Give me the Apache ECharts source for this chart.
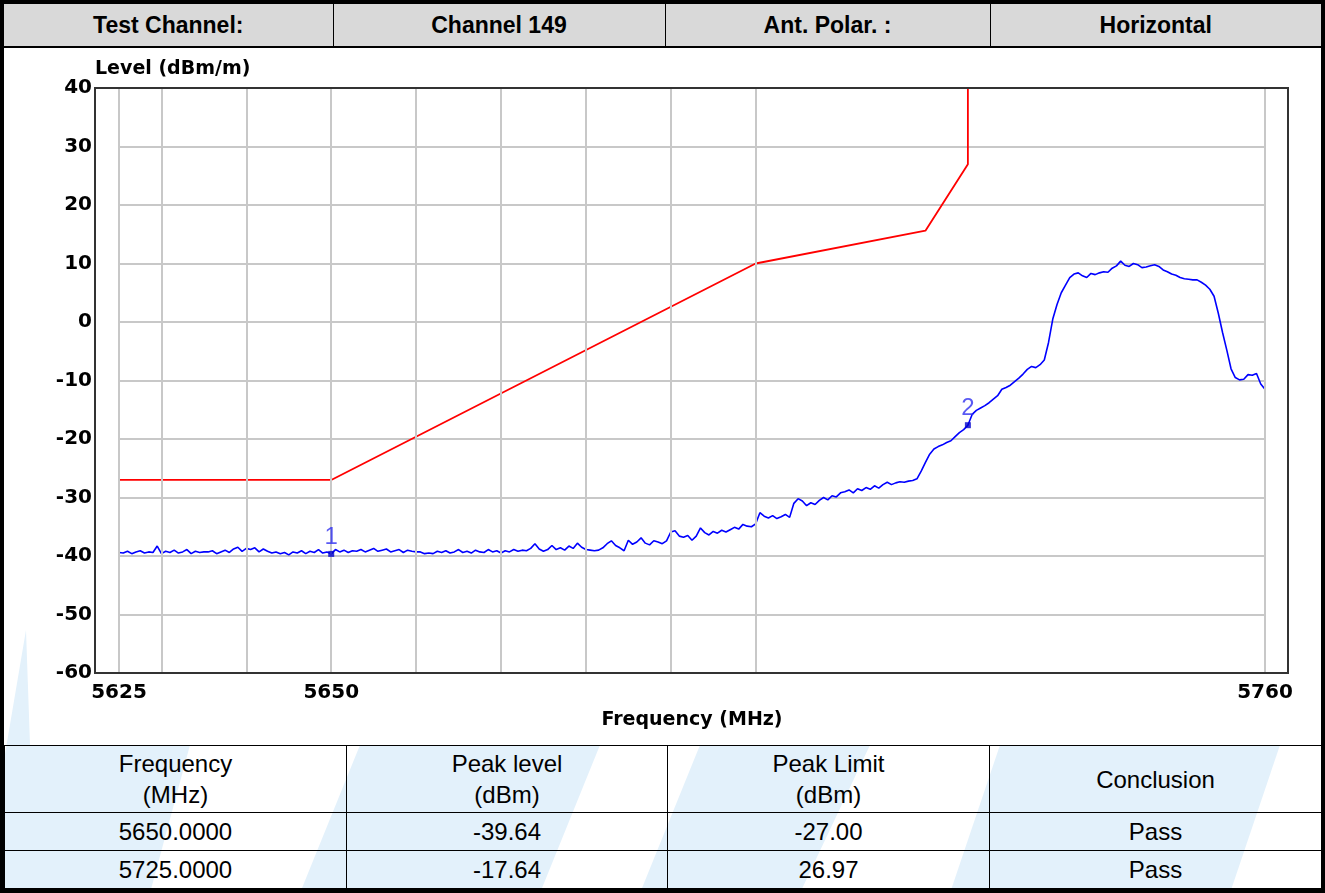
<!DOCTYPE html>
<html>
<head>
<meta charset="utf-8">
<title>Band edge - Channel 149 Horizontal</title>
<script src="https://cdn.jsdelivr.net/npm/echarts@6/dist/echarts.min.js"></script>
<style>
  html, body { margin: 0; padding: 0; background: #fff; }
  #page { position: relative; width: 1325px; height: 893px; overflow: hidden;
          font-family: Arial, "Liberation Sans", sans-serif; color: #000; }
  #watermark { position: absolute; left: 0; top: 0; z-index: 0; }
  #border { position: absolute; left: 0; top: 0; width: 1317px; height: 885px;
            border: 4px solid #000; z-index: 5; pointer-events: none; }
  table { position: absolute; left: 4px; width: 1317px; border-collapse: collapse;
          table-layout: fixed; z-index: 2; }
  #head { top: 4px; }
  #head td { height: 42px; padding: 0; background: #d9d9d9; font-weight: bold; font-size: 23px;
             text-align: center; border-left: 1px solid #000; border-bottom: 2px solid #000; }
  #head td:first-child { border-left: none; }
  #result { top: 745px; }
  #result td { padding: 0; text-align: center; font-size: 24px; line-height: 31px;
               border: 1px solid #000; }
  #result tr.h td { height: 66px; }
  #result tr.r td { height: 37px; }
  #chart { position: absolute; left: 4px; top: 48px; width: 1317px; height: 697px; z-index: 3; }
</style>
</head>
<body>
<div id="page">
  <svg id="watermark" width="1325" height="893">
    <g fill="#e3f1fb">
      <polygon points="4,760 26,630 30,745 190,745 150,893 4,893" />
      <polygon points="360,745 600,745 540,893 300,893" />
      <polygon points="700,745 870,745 800,893 640,893" />
      <polygon points="1000,745 1280,745 1230,893 950,893" />
    </g>
  </svg>
  <table id="head"></table>
  <div id="chart"></div>
  <table id="result"></table>
  <div id="border"></div>
</div>
<script>
// header / result table content
const headerCells = ['Test Channel:', 'Channel 149', 'Ant. Polar. :', 'Horizontal'];
const headerWidths = [329, 332, 325, 331];
const resultHeads = [['Frequency', '(MHz)'], ['Peak level', '(dBm)'], ['Peak Limit', '(dBm)'], ['Conclusion']];
const resultWidths = [342, 321, 322, 332];
const markerFreqs = [5650.0, 5725.0];
const peakLevels = [-39.64, -17.64];
const peakLimits = [-27.00, 26.97];
const conclusions = ['Pass', 'Pass'];

// limit line (FCC mask)
const limitFreqs = [5625, 5650, 5700, 5720, 5725, 5725];
const limitLevels = [-27, -27, 10, 15.6, 26.97, 40];

// axis ticks
const xTickLabels = [5625, 5650, 5760];
const gridFreqs = [5625, 5630, 5640, 5650, 5660, 5670, 5680, 5690, 5700, 5760];

// measured trace, one reading every 0.5 MHz from 5625 MHz
const sweepStart = 5625;
const sweepStep = 0.5;
const levelDbm = [
  // 5625.0 - 5650.0
  -39.4, -39.5, -39.2, -39.6, -39.3, -39.1, -39.5, -39.3, -39.4, -38.3,
  -39.6, -39.2, -39.4, -39.0, -39.5, -39.3, -38.9, -39.6, -39.2, -39.4,
  -39.3, -39.3, -39.1, -39.6, -39.3, -39.0, -39.4, -38.8, -38.5, -39.2,
  -38.7, -38.9, -38.6, -39.3, -38.8, -39.2, -39.5, -39.3, -39.6, -39.4,
  -39.8, -39.3, -39.5, -39.1, -39.6, -39.2, -39.4, -38.9, -39.5, -39.3,
  -39.64,
  // 5650.5 - 5660
  -38.9, -39.3, -39.0, -39.4, -39.1, -39.2, -38.9, -39.3, -39.0, -38.7,
  -39.2, -39.0, -38.8, -39.3, -39.1, -38.9, -39.4, -39.0, -39.2, -39.3,
  // 5660.5 - 5670
  -39.3, -39.6, -39.5, -39.6, -39.2, -39.4, -39.1, -39.5, -39.3, -38.9,
  -39.4, -39.2, -39.5, -39.0, -39.3, -39.4, -38.9, -39.3, -39.1, -39.5,
  // 5670.5 - 5680
  -39.1, -39.3, -38.9, -39.2, -39.0, -39.1, -38.7, -37.9, -38.8, -39.2,
  -38.9, -38.2, -38.9, -38.6, -39.0, -38.3, -38.7, -37.8, -38.5, -38.9,
  // 5680.5 - 5690
  -39.0, -39.1, -39.0, -38.6, -37.9, -37.4, -38.2, -38.6, -39.1, -37.3,
  -38.0, -37.6, -36.9, -37.8, -38.1, -37.4, -37.6, -37.9, -37.4, -35.9,
  // 5690.5 - 5700
  -35.7, -36.6, -36.8, -36.5, -37.3, -36.6, -35.2, -36.0, -36.4, -35.8,
  -36.1, -35.6, -35.9, -35.5, -35.1, -35.4, -34.6, -34.9, -35.0, -34.5,
  // 5700.5 - 5710
  -32.6, -33.2, -33.5, -33.1, -33.6, -33.3, -32.9, -33.4, -31.0, -30.2,
  -30.6, -31.4, -30.9, -31.2, -30.5, -30.0, -30.4, -29.7, -29.9, -29.2,
  // 5710.5 - 5720
  -29.0, -28.7, -29.2, -28.5, -28.8, -28.3, -28.6, -28.0, -28.4, -27.8,
  -27.4, -27.8, -27.5, -27.3, -27.4, -27.2, -27.1, -26.8, -25.5, -24.0,
  // 5720.5 - 5730
  -22.6, -21.7, -21.3, -21.0, -20.6, -20.3, -19.6, -18.9, -18.4, -17.64,
  -15.8, -15.1, -14.7, -14.3, -13.8, -13.2, -12.6, -11.5, -11.2, -10.8,
  // 5730.5 - 5740
  -10.2, -9.6, -8.9, -8.1, -7.6, -7.8, -7.3, -6.5, -3.5, 0.5,
  3.0, 5.0, 6.3, 7.6, 8.2, 8.4, 7.9, 7.6, 8.3, 8.1,
  // 5740.5 - 5750
  8.4, 8.6, 8.5, 9.2, 9.6, 10.4, 9.7, 9.5, 10.0, 9.8,
  9.3, 9.4, 9.6, 9.8, 9.5, 8.9, 8.6, 8.2, 8.0, 7.6,
  // 5750.5 - 5760
  7.4, 7.3, 7.2, 7.2, 6.8, 6.3, 5.6, 4.4, 1.5, -1.8,
  -4.8, -8.0, -9.5, -9.9, -9.8, -9.0, -9.1, -8.8, -10.6, -11.5
];

// build the two tables
const head = document.getElementById('head');
head.innerHTML = '<colgroup>' + headerWidths.map(w => `<col style="width:${w}px">`).join('') + '</colgroup>' +
  '<tr>' + headerCells.map(t => `<td>${t}</td>`).join('') + '</tr>';

const result = document.getElementById('result');
let rows = '<colgroup>' + resultWidths.map(w => `<col style="width:${w}px">`).join('') + '</colgroup>';
rows += '<tr class="h">' + resultHeads.map(t => `<td>${t.join('<br>')}</td>`).join('') + '</tr>';
markerFreqs.forEach((f, i) => {
  rows += '<tr class="r"><td>' + f.toFixed(4) + '</td><td>' + peakLevels[i].toFixed(2) +
    '</td><td>' + peakLimits[i].toFixed(2) + '</td><td>' + conclusions[i] + '</td></tr>';
});
result.innerHTML = rows;

// chart
const dom = document.getElementById('chart');
const myChart = echarts.init(dom, null, { renderer: 'canvas' });

const tracePoints = levelDbm.map((v, i) => [sweepStart + i * sweepStep, v]);
const limitPoints = limitFreqs.map((f, i) => [f, limitLevels[i]]);
const markerPoints = markerFreqs.map((f, i) => [f, peakLevels[i]]);

const labelFont = { fontFamily: 'DejaVu Sans', fontWeight: 'bold', fontSize: 20, color: '#000' };

const option = {
  animation: false,
  backgroundColor: 'transparent',
  grid: { left: 115, right: 56, top: 40, bottom: 72 },
  xAxis: {
    type: 'value',
    min: 5625,
    max: 5760,
    interval: 5,
    name: 'Frequency (MHz)',
    nameLocation: 'middle',
    nameGap: 38,
    nameTextStyle: { fontFamily: 'DejaVu Sans', fontWeight: 'bold', fontSize: 19, color: '#000' },
    axisLine: { show: false },
    axisTick: { show: false },
    splitLine: { show: false },
    axisLabel: Object.assign({
      margin: 10,
      formatter: v => (xTickLabels.includes(v) ? String(v) : '')
    }, labelFont)
  },
  yAxis: {
    type: 'value',
    min: -60,
    max: 40,
    interval: 10,
    offset: 24,
    name: 'Level (dBm/m)',
    nameLocation: 'end',
    nameGap: 2,
    nameTextStyle: { fontFamily: 'DejaVu Sans', fontWeight: 'bold', fontSize: 19, color: '#000',
                     align: 'left', verticalAlign: 'bottom' },
    axisLine: { show: false },
    axisTick: { show: false },
    axisLabel: Object.assign({ margin: 3 }, labelFont),
    splitLine: { show: true, lineStyle: { color: '#c8c8c8', width: 2 } }
  },
  graphic: [
    { type: 'rect', shape: { x: 91, y: 40, width: 1193, height: 585 },
      style: { fill: '#fff' }, z: -10, silent: true },
    { type: 'rect', shape: { x: 91, y: 40, width: 1193, height: 585 },
      style: { fill: null, stroke: '#333', lineWidth: 2 }, z: 100, silent: true }
  ],
  series: [
    {
      name: 'grid',
      type: 'line',
      data: [],
      z: 1,
      markLine: {
        silent: true,
        symbol: 'none',
        label: { show: false },
        lineStyle: { color: '#c8c8c8', width: 2, type: 'solid' },
        data: gridFreqs.map(f => ({ xAxis: f }))
      }
    },
    {
      name: 'Limit',
      type: 'line',
      data: limitPoints,
      showSymbol: false,
      lineStyle: { color: '#ff0000', width: 1.8 },
      itemStyle: { color: '#ff0000' },
      z: 3
    },
    {
      name: 'Level',
      type: 'line',
      data: tracePoints,
      showSymbol: false,
      lineStyle: { color: '#0000ff', width: 1.6 },
      itemStyle: { color: '#0000ff' },
      z: 4
    },
    {
      name: 'Marker',
      type: 'scatter',
      data: markerPoints,
      symbol: 'rect',
      symbolSize: 6,
      itemStyle: { color: '#0000cc' },
      label: {
        show: true,
        position: 'top',
        distance: 2,
        formatter: p => String(p.dataIndex + 1),
        fontFamily: 'Arial',
        fontSize: 24,
        color: '#3030f0'
      },
      z: 5
    }
  ]
};

myChart.setOption(option);
window.addEventListener('resize', myChart.resize);
</script>
</body>
</html>
